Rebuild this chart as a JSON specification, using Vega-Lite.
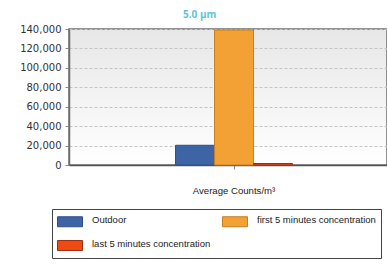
{
  "$schema": "https://vega.github.io/schema/vega-lite/v6.json",
  "width": 318,
  "height": 136,
  "autosize": {"type": "none"},
  "padding": {"left": 69, "top": 29, "right": 0, "bottom": 99},
  "background": "white",
  "title": {
    "text": "5.0 µm",
    "anchor": "start",
    "frame": "group",
    "dx": 114,
    "offset": 4,
    "fontSize": 10,
    "fontWeight": "bold",
    "font": "Open Sans",
    "color": "#5bc6da"
  },
  "config": {
    "view": {
      "stroke": "#6e6e6e",
      "strokeWidth": 1.5,
      "fill": {
        "gradient": "linear",
        "x1": 0, "y1": 0, "x2": 0, "y2": 1,
        "stops": [
          {"offset": 0, "color": "#e7e7e7"},
          {"offset": 1, "color": "#ffffff"}
        ]
      }
    },
    "font": "Liberation Sans"
  },
  "data": {
    "values": [
      {"metric": "Average Counts/m³", "series": "Outdoor", "value": 20300},
      {"metric": "Average Counts/m³", "series": "first 5 minutes concentration", "value": 139000},
      {"metric": "Average Counts/m³", "series": "last 5 minutes concentration", "value": 1500}
    ]
  },
  "mark": {"type": "bar", "strokeWidth": 1},
  "encoding": {
    "x": {
      "field": "metric",
      "type": "nominal",
      "scale": {"paddingInner": 0, "paddingOuter": 0.859, "align": 0.53},
      "axis": {
        "title": null,
        "labelAngle": 0,
        "labelFontSize": 9.6,
        "labelColor": "#222",
        "labelPadding": 16,
        "domainColor": "#555",
        "domainWidth": 1.5,
        "tickColor": "#888",
        "tickSize": 4
      }
    },
    "xOffset": {
      "field": "series",
      "type": "nominal",
      "sort": ["Outdoor", "first 5 minutes concentration", "last 5 minutes concentration"],
      "scale": {"paddingInner": 0, "paddingOuter": 0}
    },
    "y": {
      "field": "value",
      "type": "quantitative",
      "scale": {"domain": [0, 140000], "nice": false},
      "axis": {
        "title": null,
        "values": [0, 20000, 40000, 60000, 80000, 100000, 120000, 140000],
        "format": ",d",
        "labelFontSize": 10,
        "labelColor": "#333",
        "labelFont": "DejaVu Sans",
        "labelPadding": 4,
        "tickSize": 4,
        "tickColor": "#888",
        "domainColor": "#6e6e6e",
        "domainWidth": 1.5,
        "gridColor": "#c4c4c4",
        "gridDash": [3, 2],
        "gridWidth": 1
      }
    },
    "color": {
      "field": "series",
      "type": "nominal",
      "sort": ["Outdoor", "first 5 minutes concentration", "last 5 minutes concentration"],
      "scale": {
        "domain": ["Outdoor", "first 5 minutes concentration", "last 5 minutes concentration"],
        "range": ["#3e64a6", "#f3a034", "#ee4a12"]
      },
      "legend": {
        "title": null,
        "orient": "none",
        "legendX": -17,
        "legendY": 180,
        "columns": 2,
        "direction": "horizontal",
        "columnPadding": 9,
        "rowPadding": 9,
        "padding": 5,
        "fillColor": "white",
        "strokeColor": "#444",
        "symbolType": "M-1,-0.6H4V1.4H-1Z",
        "symbolSize": 100,
        "symbolStrokeColor": "#666",
        "symbolStrokeWidth": 1,
        "symbolOpacity": 1,
        "labelOffset": 24,
        "labelFontSize": 9.5,
        "labelColor": "#222",
        "labelLimit": 200
      }
    },
    "stroke": {
      "field": "series",
      "type": "nominal",
      "scale": {
        "domain": ["Outdoor", "first 5 minutes concentration", "last 5 minutes concentration"],
        "range": ["#2f4f86", "#c47f22", "#9a3018"]
      },
      "legend": null
    }
  }
}
